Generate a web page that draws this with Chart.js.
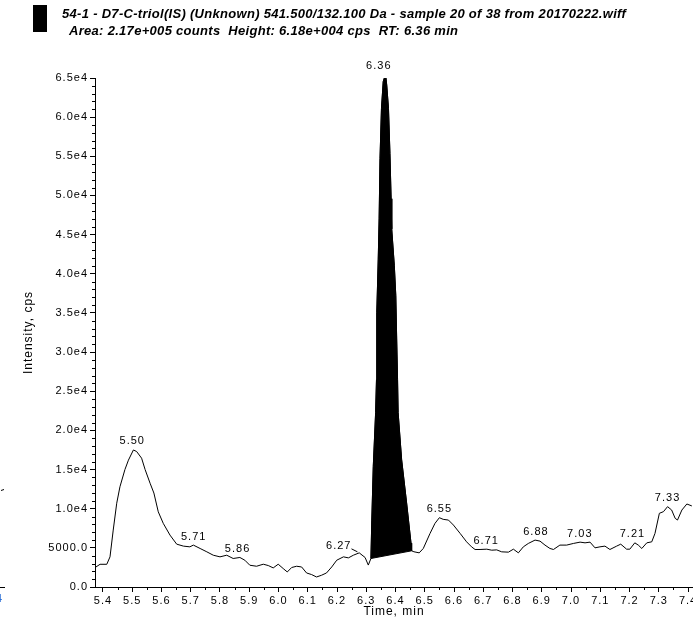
<!DOCTYPE html>
<html>
<head>
<meta charset="utf-8">
<script src="https://cdn.jsdelivr.net/npm/chart.js@4"></script>
<style>
  html, body { margin: 0; padding: 0; background: #fff; }
  #wrap { width: 693px; height: 625px; position: relative; }
</style>
</head>
<body>
<div id="wrap"><canvas id="c" width="693" height="625"></canvas></div>
<script>
// ---- data ----
const titleLine1 = '54-1 - D7-C-triol(IS) (Unknown) 541.500/132.100 Da - sample 20 of 38 from 20170222.wiff';
const titleLine2 = 'Area: 2.17e+005 counts  Height: 6.18e+004 cps  RT: 6.36 min';
const xAxisTitle = 'Time, min';
const yAxisTitle = 'Intensity, cps';

const timeMin = [
  5.376, 5.390, 5.413, 5.424, 5.435, 5.447, 5.458, 5.475, 5.487, 5.504,
  5.515, 5.532, 5.544, 5.561, 5.574, 5.589, 5.606, 5.629, 5.652, 5.675,
  5.697, 5.709, 5.732, 5.755, 5.777, 5.800, 5.823, 5.845, 5.868, 5.885,
  5.902, 5.925, 5.948, 5.965, 5.982, 5.999, 6.016, 6.030, 6.045, 6.062,
  6.079, 6.096, 6.113, 6.130, 6.147, 6.164, 6.182, 6.199, 6.222, 6.239,
  6.256, 6.276, 6.296, 6.307, 6.316,
  6.319, 6.324, 6.332, 6.335, 6.336, 6.341, 6.344, 6.347, 6.352, 6.358, 6.366,
  6.370, 6.376, 6.381, 6.385, 6.387, 6.396, 6.401, 6.404, 6.407, 6.409, 6.421, 6.438, 6.453, 6.455,
  6.463, 6.481, 6.495, 6.518, 6.535, 6.550, 6.563, 6.581, 6.598, 6.621,
  6.643, 6.660, 6.672, 6.689, 6.712, 6.729, 6.746, 6.763, 6.786, 6.803,
  6.820, 6.837, 6.854, 6.877, 6.894, 6.911, 6.928, 6.940, 6.962, 6.985,
  7.008, 7.031, 7.048, 7.065, 7.082, 7.099, 7.116, 7.133, 7.156, 7.170,
  7.190, 7.201, 7.218, 7.230, 7.242, 7.259, 7.276, 7.287, 7.302, 7.316,
  7.330, 7.344, 7.356, 7.364, 7.379, 7.396, 7.413
];
const intensityCps = [
  2560, 2900, 2900, 3850, 7270, 10700, 12800, 15000, 16200, 17500,
  17300, 16450, 15000, 13250, 12000, 9600, 8130, 6630, 5470, 5220,
  5130, 5350, 4920, 4490, 4060, 3850, 4060, 3640, 3770, 3420,
  2780, 2650, 2910, 2740, 2440, 2910, 2360, 1920, 2490, 2650,
  2560, 1790, 1590, 1280, 1500, 1790, 2560, 3420, 3850, 3720,
  4060, 4360, 3770, 2800, 3640,
  8550, 15380, 22270, 26500, 35090, 41880, 47010, 54700, 61100, 64540, 65470,
  64100, 61100, 55350, 49580, 45730, 41020, 37180, 31670, 26500, 22270, 16240, 10730, 5600, 4620,
  4500, 4360, 4920, 6840, 8130, 8850, 8640, 8550, 7910, 6840,
  5770, 5130, 4790, 4790, 4830, 4700, 4740, 4490, 4450, 4830,
  4360, 5130, 5560, 5990, 5860, 5350, 4920, 4790, 5350, 5350,
  5560, 5730, 5640, 5730, 5000, 5130, 5220, 4790, 5220, 5470,
  4830, 4830, 5640, 5350, 4920, 5640, 5770, 6840, 9410, 9620,
  10260, 9830, 8770, 8550, 9830, 10600, 10350
];

// integrated peak (filled) runs between these retention times
const peakStartTime = 6.316;
const peakEndTime = 6.455;

// annotated peak apexes
const peakLabelTimes = [5.50, 5.71, 5.86, 6.27, 6.36, 6.55, 6.71, 6.88, 7.03, 7.21, 7.33];
const peakLabelHeights = [17500, 5350, 3770, 4360, 65470, 8850, 4830, 5990, 5730, 5640, 10260];

const xTickValues = [5.4, 5.5, 5.6, 5.7, 5.8, 5.9, 6.0, 6.1, 6.2, 6.3, 6.4, 6.5, 6.6, 6.7, 6.8, 6.9, 7.0, 7.1, 7.2, 7.3, 7.4];
const yTickValues = [0, 5000, 10000, 15000, 20000, 25000, 30000, 35000, 40000, 45000, 50000, 55000, 60000, 65000];

// ---- build datasets ----
const tracePoints = timeMin.map((t, i) => ({ x: t, y: intensityCps[i] }));
const iStart = timeMin.indexOf(peakStartTime);
const iEnd = timeMin.indexOf(peakEndTime);
const peakShape = tracePoints.slice(iStart, iEnd + 1);
peakShape.push(tracePoints[iStart]);

const FONT = "'Liberation Sans', Arial, sans-serif";

function yLabel(v) {
  if (v >= 10000) return (v / 10000).toFixed(1) + 'e4';
  return v.toFixed(1);
}

const decor = {
  id: 'decor',
  beforeDraw(chart) {
    chart.ctx.letterSpacing = '1px';
  },
  afterDraw(chart) {
    const ctx = chart.ctx;
    const xs = chart.scales.x, ys = chart.scales.y;
    const area = chart.chartArea;
    ctx.save();
    // header
    ctx.fillStyle = '#000';
    ctx.fillRect(33, 5, 14, 27);
    ctx.font = 'italic bold 13px ' + FONT;
    ctx.letterSpacing = '0.3px';
    ctx.textBaseline = 'alphabetic';
    ctx.textAlign = 'left';
    ctx.fillText(titleLine1, 62, 18);
    ctx.fillText(titleLine2, 69, 35);

    // minor ticks
    ctx.strokeStyle = '#000';
    ctx.lineWidth = 1;
    ctx.beginPath();
    for (let k = 0; k <= 65; k++) {
      if (k % 5 === 0) continue;
      const py = Math.round(ys.getPixelForValue(k * 1000)) + 0.5;
      ctx.moveTo(area.left - 3, py);
      ctx.lineTo(area.left, py);
    }
    for (let k = 107; k <= 148; k += 2) {
      const v = k / 20;
      if (v < xs.min || v > xs.max) continue;
      const px = Math.round(xs.getPixelForValue(v)) + 0.5;
      ctx.moveTo(px, area.bottom);
      ctx.lineTo(px, area.bottom + 3);
    }
    ctx.stroke();

    // peak labels
    ctx.letterSpacing = '1px';
    ctx.font = '11px ' + FONT;
    ctx.fillStyle = '#000';
    ctx.textBaseline = 'bottom';
    peakLabelTimes.forEach((t, i) => {
      const px = xs.getPixelForValue(t);
      const py = ys.getPixelForValue(peakLabelHeights[i]);
      const txt = t.toFixed(2);
      if (t === 6.27) {
        ctx.textAlign = 'right';
        ctx.fillText(txt, px - 6, py - 1);
        ctx.beginPath();
        ctx.moveTo(px - 6, py - 4);
        ctx.lineTo(px, py - 1);
        ctx.stroke();
      } else if (t === 6.36) {
        ctx.textAlign = 'center';
        ctx.fillText(txt, px - 5, py - 3);
      } else {
        ctx.textAlign = 'center';
        ctx.fillText(txt, px, py - 3);
      }
    });

    // stray fragments of the neighbouring panel at the left edge
    ctx.beginPath();
    ctx.moveTo(0, 587.5);
    ctx.lineTo(5, 587.5);
    ctx.moveTo(1, 490.5);
    ctx.lineTo(4, 489.5);
    ctx.stroke();
    ctx.fillStyle = '#2a6fd6';
    ctx.font = '11px ' + FONT;
    ctx.textAlign = 'left';
    ctx.textBaseline = 'middle';
    ctx.fillText('4', -4, 599);
    ctx.restore();
  }
};

new Chart(document.getElementById('c'), {
  type: 'line',
  data: {
    datasets: [
      {
        label: 'peak',
        data: peakShape,
        borderColor: '#000',
        backgroundColor: '#000',
        borderWidth: 1,
        pointRadius: 0,
        tension: 0,
        fill: 'shape'
      },
      {
        label: 'trace',
        data: tracePoints,
        borderColor: '#000',
        borderWidth: 1,
        pointRadius: 0,
        tension: 0,
        fill: false
      }
    ]
  },
  options: {
    responsive: false,
    animation: false,
    layout: { padding: { top: 78, left: 0, right: 0, bottom: 0 } },
    plugins: { legend: { display: false }, tooltip: { enabled: false }, title: { display: false } },
    scales: {
      x: {
        type: 'linear',
        min: 5.3727,
        max: 7.417,
        afterBuildTicks(scale) { scale.ticks = xTickValues.map(v => ({ value: v })); },
        afterFit(scale) { scale.height = 38; scale.paddingLeft = 0; scale.paddingRight = 0; },
        ticks: {
          autoSkip: false, maxRotation: 0, padding: 2, color: '#000',
          font: { family: FONT, size: 11 },
          callback: v => Number(v).toFixed(1)
        },
        grid: { display: true, drawOnChartArea: false, drawTicks: true, tickLength: 5, color: '#000' },
        border: { display: true, color: '#000', width: 1 },
        title: { display: true, text: xAxisTitle, color: '#000', font: { family: FONT, size: 12 }, padding: { top: 0, bottom: 6 } }
      },
      y: {
        type: 'linear',
        min: 0,
        max: 65000,
        afterBuildTicks(scale) { scale.ticks = yTickValues.map(v => ({ value: v })); },
        afterFit(scale) { scale.width = 95; scale.paddingTop = 0; scale.paddingBottom = 0; },
        ticks: {
          autoSkip: false, padding: 2, color: '#000',
          font: { family: FONT, size: 11 },
          callback: v => yLabel(v)
        },
        grid: { display: true, drawOnChartArea: false, drawTicks: true, tickLength: 5, color: '#000' },
        border: { display: true, color: '#000', width: 1 },
        title: { display: true, text: yAxisTitle, color: '#000', font: { family: FONT, size: 12 }, padding: { top: 21, bottom: 0 } }
      }
    }
  },
  plugins: [decor]
});
</script>
</body>
</html>
